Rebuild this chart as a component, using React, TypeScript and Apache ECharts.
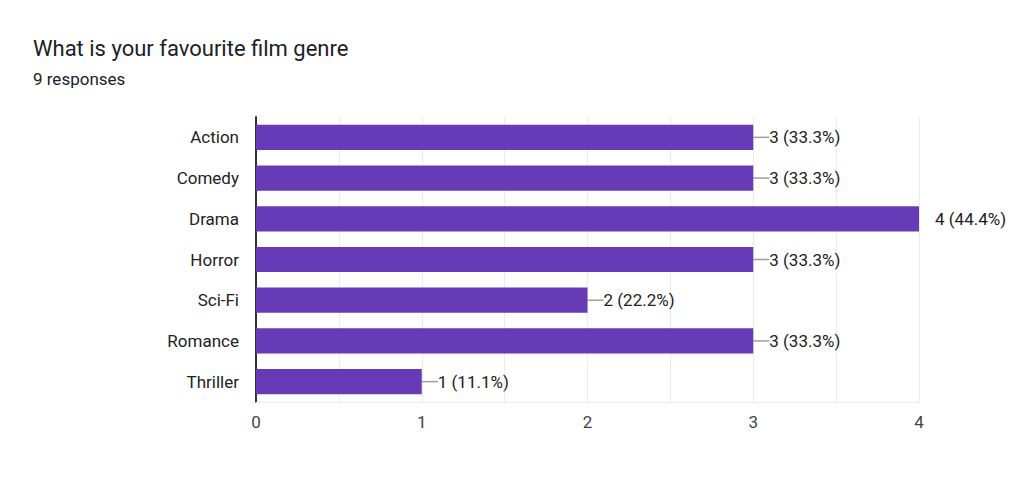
import React, { useEffect, useRef } from "react";
import * as echarts from "echarts";

const categories = ["Action", "Comedy", "Drama", "Horror", "Sci-Fi", "Romance", "Thriller"];
const counts = [3, 3, 4, 3, 2, 3, 1];
const percents = ["33.3%", "33.3%", "44.4%", "33.3%", "22.2%", "33.3%", "11.1%"];
const xTicks = [0, 1, 2, 3, 4];
const xMax = 4;

export default function App() {
  const ref = useRef<HTMLDivElement>(null);
  useEffect(() => {
    if (!ref.current) return;
    const chart = echarts.init(ref.current, undefined, { renderer: "svg" });
    chart.setOption({
      animation: false,
      textStyle: { fontFamily: "Roboto" },
      title: {
        text: "What is your favourite film genre",
        subtext: "9 responses",
        left: 28,
        top: 32,
        itemGap: 11,
        textStyle: { fontSize: 22, fontWeight: "normal", color: "#202124", fontFamily: "Roboto" },
        subtextStyle: { fontSize: 17, color: "#202124", fontFamily: "Roboto" },
      },
      grid: { left: 256, right: 103, top: 117, bottom: 84, containLabel: false },
      xAxis: {
        type: "value",
        min: 0,
        max: xMax,
        interval: 0.5,
        axisLine: { show: true, lineStyle: { color: "#ebebeb" } },
        axisTick: { show: false },
        splitLine: { show: true, lineStyle: { color: "#ebebeb", width: 1 } },
        axisLabel: {
          color: "#444",
          fontSize: 17,
          margin: 11,
          formatter: (v: number) => (xTicks.includes(v) ? String(v) : ""),
        },
      },
      yAxis: {
        type: "category",
        inverse: true,
        data: categories,
        axisLine: { show: true, lineStyle: { color: "#333", width: 2 } },
        axisTick: { show: false },
        axisLabel: { color: "#222", fontSize: 17, margin: 17 },
      },
      series: [
        {
          type: "bar",
          data: counts.map((v) =>
            v === xMax ? { value: v, labelLine: { show: false } } : { value: v }
          ),
          barCategoryGap: "38%",
          itemStyle: { color: "#673ab7" },
          label: {
            show: true,
            position: "right",
            distance: 0,
            color: "#222",
            fontSize: 17,
            formatter: (p: any) => `${p.value} (${percents[p.dataIndex]})`,
          },
          labelLayout: () => ({ dx: 16 }),
          labelLine: { show: true, lineStyle: { color: "#9e9e9e", width: 1.5 } },
        },
      ],
    });
    return () => chart.dispose();
  }, []);
  return <div ref={ref} style={{ width: 1022, height: 486, position: "absolute", left: 0, top: 0 }} />;
}
